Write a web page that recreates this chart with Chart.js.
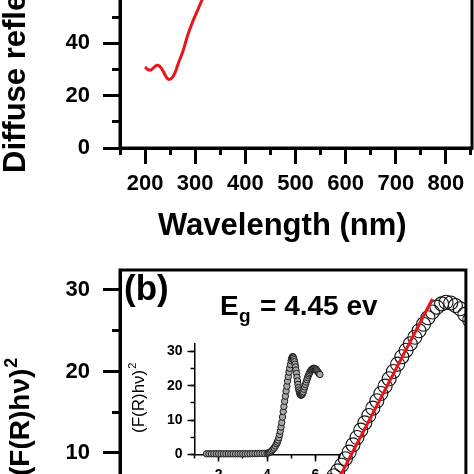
<!DOCTYPE html>
<html>
<head>
<meta charset="utf-8">
<script src="https://cdn.jsdelivr.net/npm/chart.js@4.4.1/dist/chart.umd.min.js"></script>
<style>
  html, body { margin: 0; padding: 0; background: #fff; }
  body { width: 474px; height: 474px; overflow: hidden; position: relative; }
  canvas { position: absolute; }
  #chartA { left: 0; top: -40px; }
  #chartB { left: 0; top: 230px; }
  #chartInset { left: 110px; top: 320px; }
</style>
</head>
<body>
<canvas id="chartA" width="474" height="310"></canvas>
<canvas id="chartB" width="474" height="400"></canvas>
<canvas id="chartInset" width="250" height="200"></canvas>
<script>
// (a) diffuse reflectance vs wavelength (only the lower part is in view)
const wavelengths = [200, 204, 208, 212, 216, 220, 224, 228, 232, 236, 240, 244, 247, 250, 253, 256,
                     261, 266, 271, 276, 281, 286, 291, 296, 301, 306, 311, 316, 321];
const reflectance = [31.0, 30.2, 29.8, 29.9, 30.5, 31.2, 31.6, 31.4, 30.6, 29.4, 27.9, 26.7, 26.2, 26.3, 26.7, 27.4,
                     29.4, 32.2, 34.7, 37.3, 40.5, 43.7, 46.3, 48.8, 51.0, 53.2, 55.5, 57.6, 59.8];

// (b) (F(R)hv)^2 vs photon energy, main plot
const energyB = [3.647, 3.758, 3.875, 4.000, 4.133, 4.203, 4.276, 4.306, 4.336, 4.366, 4.397, 4.429,
                 4.444, 4.460, 4.477, 4.493, 4.509, 4.526, 4.542, 4.559, 4.576, 4.593, 4.610, 4.627,
                 4.644, 4.662, 4.679, 4.697, 4.715, 4.733, 4.751, 4.769, 4.788, 4.806, 4.825, 4.844,
                 4.863, 4.882, 4.901, 4.921, 4.940, 4.960, 4.980, 5.000, 5.020, 5.041, 5.061, 5.082,
                 5.103, 5.124, 5.145, 5.167];
const kmB = [0.1, 0.15, 0.2, 0.35, 0.7, 1.0, 1.7, 2.0, 2.3, 2.7, 3.1, 3.6,
             3.9, 4.2, 4.6, 5.0, 5.5, 6.0, 6.6, 7.2, 7.8, 8.5, 9.3, 10.1,
             11.0, 11.9, 12.8, 13.7, 14.6, 15.5, 16.4, 17.3, 18.2, 19.1, 20.0, 20.9,
             21.8, 22.6, 23.4, 24.2, 25.0, 25.8, 26.6, 27.3, 27.9, 28.3, 28.5, 28.4,
             28.1, 27.7, 27.0, 26.3];

// linear fit, extrapolated to the band gap
const fitEnergy = [4.45, 5.0];
const fitValue = [0, 28.9];

// inset: full range
const energyInset = [1.5, 1.6, 1.7, 1.8, 1.9, 2.0, 2.1, 2.2, 2.3, 2.4, 2.5, 2.6, 2.7,
                     2.8, 2.9, 3.0, 3.1, 3.2, 3.3, 3.4, 3.5, 3.6, 3.7, 3.8, 3.9, 4.0,
                     4.05, 4.1, 4.15, 4.2, 4.25, 4.3, 4.35, 4.4,
                     4.43, 4.46, 4.49, 4.52, 4.55, 4.58, 4.61, 4.64, 4.67, 4.70,
                     4.73, 4.76, 4.79, 4.82, 4.85, 4.88, 4.91, 4.94, 4.97, 5.00,
                     5.02, 5.04, 5.06, 5.08, 5.10, 5.12, 5.14, 5.16, 5.18, 5.20, 5.22, 5.24, 5.26,
                     5.28, 5.30, 5.32, 5.34, 5.36, 5.38, 5.40, 5.42, 5.44, 5.46, 5.48, 5.50,
                     5.53, 5.56, 5.59, 5.62, 5.65, 5.68, 5.71, 5.74, 5.77, 5.80, 5.83, 5.86,
                     5.89, 5.92, 5.95, 5.98, 6.01, 6.04, 6.07, 6.10, 6.13, 6.16, 6.19];
const kmInset = [0.2, 0.2, 0.2, 0.2, 0.2, 0.2, 0.2, 0.2, 0.2, 0.2, 0.2, 0.2, 0.2,
                 0.2, 0.2, 0.2, 0.2, 0.2, 0.2, 0.25, 0.25, 0.25, 0.3, 0.3, 0.3, 0.35,
                 0.45, 0.6, 0.8, 1.1, 1.5, 1.9, 2.5, 3.1,
                 3.6, 4.2, 4.9, 5.8, 6.8, 8.0, 9.3, 10.9, 12.5, 14.0,
                 15.5, 17.0, 18.5, 19.9, 21.4, 22.7, 24.0, 25.1, 26.2, 27.3,
                 27.9, 28.3, 28.5, 28.4, 28.1, 27.6, 27.0, 26.3, 25.5, 24.6, 23.6, 22.5, 21.4,
                 20.4, 19.5, 18.8, 18.2, 17.7, 17.4, 17.3, 17.3, 17.4, 17.6, 17.9, 18.3,
                 19.0, 19.7, 20.4, 21.1, 21.8, 22.4, 23.0, 23.5, 23.9, 24.3, 24.6, 24.8,
                 25.0, 25.1, 25.1, 25.0, 24.9, 24.7, 24.4, 24.1, 23.8, 23.5, 23.3];

Chart.defaults.font.family = '"Liberation Sans", Arial, sans-serif';
Chart.defaults.color = '#000';

function pairs(xs, ys) {
    return xs.map((x, i) => ({ x: x, y: ys[i] }));
}

// ticks on whole multiples of the step, whatever the axis limits are
function stepTicks(min, max, step) {
    return scale => {
        const ticks = [];
        for (let k = Math.ceil(min / step - 1e-9); k * step <= max + 1e-9; k++) {
            ticks.push({ value: +(k * step).toFixed(6) });
        }
        scale.ticks = ticks;
    };
}

// a labelled axis plus a second, unlabelled one that only draws the short minor ticks
function axes(id, pos, min, max, major, minor, o) {
    const horiz = pos === 'bottom';
    const out = {};
    out[id] = {
        type: 'linear', position: pos, min: min, max: max, weight: 1,
        afterBuildTicks: stepTicks(min, max, major),
        afterFit: s => { if (horiz) s.height = o.size; else s.width = o.size; },
        border: { display: true, color: '#000', width: o.line },
        grid: { drawOnChartArea: false, tickLength: o.long, tickWidth: o.line, tickColor: '#000' },
        ticks: { padding: o.pad, color: '#000', font: { size: o.font, weight: 'bold' } }
    };
    out[id + 'm'] = {
        type: 'linear', position: pos, min: min, max: max, weight: 0,
        afterBuildTicks: stepTicks(min, max, minor),
        afterFit: s => { if (horiz) s.height = 0; else s.width = 0; },
        border: { display: false },
        grid: { drawOnChartArea: false, tickLength: o.short, tickWidth: o.line, tickColor: '#000' },
        ticks: { display: false }
    };
    return out;
}

const framePlugin = {
    id: 'frame',
    afterDraw(chart, args, opts) {
        if (!opts.width) return;
        const a = chart.chartArea;
        const ctx = chart.ctx;
        ctx.save();
        ctx.strokeStyle = '#000';
        ctx.lineWidth = opts.width;
        ctx.strokeRect(a.left, a.top, a.right - a.left, a.bottom - a.top);
        ctx.restore();
    }
};

// free text: axis titles, panel letter, band gap note
const notesPlugin = {
    id: 'notes',
    afterDraw(chart, args, opts) {
        const ctx = chart.ctx;
        (opts.items || []).forEach(t => {
            ctx.save();
            ctx.fillStyle = '#000';
            ctx.textAlign = 'left';
            ctx.textBaseline = 'alphabetic';
            ctx.translate(t.x, t.y);
            if (t.rotate) ctx.rotate(-Math.PI / 2);
            ctx.font = t.font;
            ctx.fillText(t.text, 0, 0);
            if (t.sup) {
                const w = ctx.measureText(t.text).width;
                ctx.font = t.supFont;
                ctx.fillText(t.sup, w + 1, -t.supRise);
            }
            ctx.restore();
        });
    }
};

const bigAxis = { size: 120, line: 3, long: 17, short: 8, pad: 13, font: 22 };

new Chart(document.getElementById('chartA'), {
    type: 'scatter',
    data: {
        datasets: [{
            data: pairs(wavelengths, reflectance),
            showLine: true,
            borderColor: '#e8151b',
            borderWidth: 3,
            pointRadius: 0,
            tension: 0.4
        }]
    },
    options: {
        responsive: false,
        animation: false,
        devicePixelRatio: 1,
        layout: { padding: { left: 0, right: 2, top: 30.5, bottom: 0 } },
        scales: Object.assign(
            axes('x', 'bottom', 150, 852, 100, 50, Object.assign({}, bigAxis, { size: 122, long: 16, short: 7, pad: 7 })),
            axes('y', 'left', 0, 60.2, 20, 10, bigAxis)
        ),
        plugins: {
            legend: { display: false },
            tooltip: { enabled: false },
            frame: { width: 3 },
            notes: {
                items: [
                    { text: 'Wavelength (nm)', x: 158, y: 274.5, font: 'bold 31px "Liberation Sans", Arial' },
                    { text: 'Diffuse reflectance (%)', x: 25, y: 213, rotate: true, font: 'bold 31px "Liberation Sans", Arial' }
                ]
            }
        }
    },
    plugins: [framePlugin, notesPlugin]
});

new Chart(document.getElementById('chartB'), {
    type: 'scatter',
    data: {
        datasets: [{
            data: pairs(fitEnergy, fitValue),
            showLine: true,
            borderColor: '#e8151b',
            borderWidth: 3,
            pointRadius: 0
        }, {
            data: pairs(energyB, kmB),
            pointStyle: 'circle',
            pointRadius: 7,
            borderWidth: 1.1,
            borderColor: '#111',
            backgroundColor: 'rgba(0,0,0,0)'
        }]
    },
    options: {
        responsive: false,
        animation: false,
        devicePixelRatio: 1,
        layout: { padding: { left: 0, right: 2, top: 40, bottom: 0 } },
        scales: Object.assign(
            axes('x', 'bottom', 3.6, 5.15, 0.2, 0.1, Object.assign({}, bigAxis, { size: 95.5, long: 16, short: 7, pad: 7 })),
            axes('y', 'left', 0, 32.45, 10, 5, bigAxis)
        ),
        plugins: {
            legend: { display: false },
            tooltip: { enabled: false },
            frame: { width: 3 },
            notes: {
                items: [
                    { text: '(b)', x: 124, y: 70, font: 'bold 35px "Liberation Sans", Arial' },
                    { text: 'E', x: 220, y: 85, font: 'bold 28px "Liberation Sans", Arial' },
                    { text: 'g', x: 239, y: 92, font: 'bold 19px "Liberation Sans", Arial' },
                    { text: '= 4.45 ev', x: 260, y: 85, font: 'bold 28px "Liberation Sans", Arial' },
                    { text: '(F(R)h\u03bd)', x: 29, y: 246, rotate: true, font: 'bold 28px "Liberation Sans", Arial',
                      sup: '2', supFont: 'bold 18px "Liberation Sans", Arial', supRise: 12 }
                ]
            }
        }
    },
    plugins: [framePlugin, notesPlugin]
});

new Chart(document.getElementById('chartInset'), {
    type: 'scatter',
    data: {
        datasets: [{
            data: pairs(energyInset, kmInset),
            pointStyle: 'circle',
            pointRadius: 3.2,
            borderWidth: 1,
            borderColor: '#1a1a1a',
            backgroundColor: '#a8a8a8',
            clip: false
        }]
    },
    options: {
        responsive: false,
        animation: false,
        devicePixelRatio: 1,
        layout: { padding: { left: 0, right: 20, top: 23.6, bottom: 0 } },
        scales: Object.assign(
            axes('x', 'bottom', 1, 7.02, 2, 1, { size: 65.5, line: 1.5, long: 7, short: 4, pad: 5, font: 14 }),
            axes('y', 'left', 0, 32.3, 10, 5, { size: 84.5, line: 1.5, long: 7, short: 4, pad: 5, font: 14 })
        ),
        plugins: {
            legend: { display: false },
            tooltip: { enabled: false },
            frame: { width: 0 },
            notes: {
                items: [
                    { text: '(F(R)h\u03bd)', x: 33.5, y: 113, rotate: true, font: '17px "Liberation Sans", Arial',
                      sup: '2', supFont: '11px "Liberation Sans", Arial', supRise: 8 }
                ]
            }
        }
    },
    plugins: [framePlugin, notesPlugin]
});
</script>
</body>
</html>
